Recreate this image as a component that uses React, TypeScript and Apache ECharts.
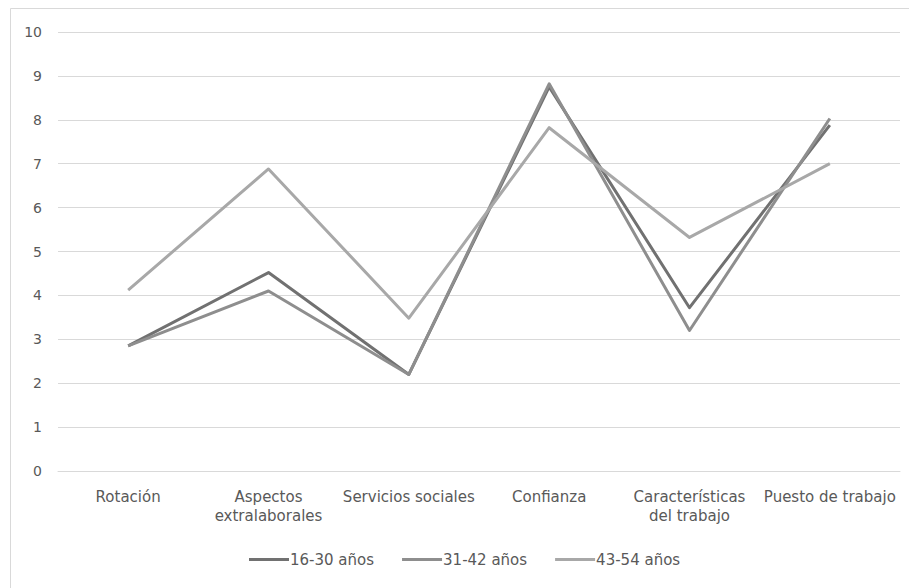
import React, { useEffect, useRef } from "react";
import * as echarts from "echarts";

const categories = [
  "Rotación",
  "Aspectos\nextralaborales",
  "Servicios sociales",
  "Confianza",
  "Características\ndel trabajo",
  "Puesto de trabajo",
];

const seriesNames = ["16-30 años", "31-42 años", "43-54 años"];

const values1630 = [2.85, 4.52, 2.2, 8.75, 3.72, 7.88];
const values3142 = [2.85, 4.1, 2.2, 8.82, 3.2, 8.03];
const values4354 = [4.12, 6.88, 3.48, 7.82, 5.32, 7.0];

const yTicks = [0, 10, 1];

const colors = ["#717171", "#8e8e8e", "#a8a8a8"];
const textColor = "#595959";
const fontFamily = "'DejaVu Sans', sans-serif";

export default function App() {
  const ref = useRef<HTMLDivElement>(null);

  useEffect(() => {
    if (!ref.current) return;
    const chart = echarts.init(ref.current, undefined, { renderer: "svg" });
    const data = [values1630, values3142, values4354];
    chart.setOption({
      animation: false,
      backgroundColor: "#ffffff",
      textStyle: { fontFamily, color: textColor },
      graphic: [
        {
          type: "rect",
          shape: { x: 10.5, y: 8.5, width: 940, height: 620 },
          style: { fill: "none", stroke: "#d9d9d9", lineWidth: 1 },
          silent: true,
        },
      ],
      grid: { left: 58, right: 9, top: 32, bottom: 117, containLabel: false },
      legend: {
        bottom: 16,
        left: 244,
        icon: "rect",
        itemWidth: 40,
        itemHeight: 3,
        itemGap: 28,
        textStyle: {
          color: textColor,
          fontSize: 15,
          fontFamily,
          padding: [0, 0, 0, -4],
        },
        data: seriesNames,
      },
      xAxis: {
        type: "category",
        data: categories,
        boundaryGap: true,
        axisLine: { show: true, lineStyle: { color: "#d9d9d9" } },
        axisTick: { show: false },
        axisLabel: {
          interval: 0,
          color: textColor,
          fontSize: 15,
          fontFamily,
          margin: 16,
          lineHeight: 19,
          align: "center",
        },
      },
      yAxis: {
        type: "value",
        min: yTicks[0],
        max: yTicks[1],
        interval: yTicks[2],
        axisLine: { show: false },
        axisTick: { show: false },
        splitLine: { lineStyle: { color: "#d9d9d9", width: 1 } },
        axisLabel: { color: textColor, fontSize: 14, fontFamily, margin: 16 },
      },
      series: seriesNames.map((name, i) => ({
        name,
        type: "line",
        data: data[i],
        symbol: "none",
        showSymbol: false,
        lineStyle: { color: colors[i], width: 3, join: "round" },
        itemStyle: { color: colors[i] },
      })),
    });
    return () => chart.dispose();
  }, []);

  return (
    <div
      ref={ref}
      style={{ position: "fixed", left: 0, top: 0, width: 909, height: 588 }}
    />
  );
}
